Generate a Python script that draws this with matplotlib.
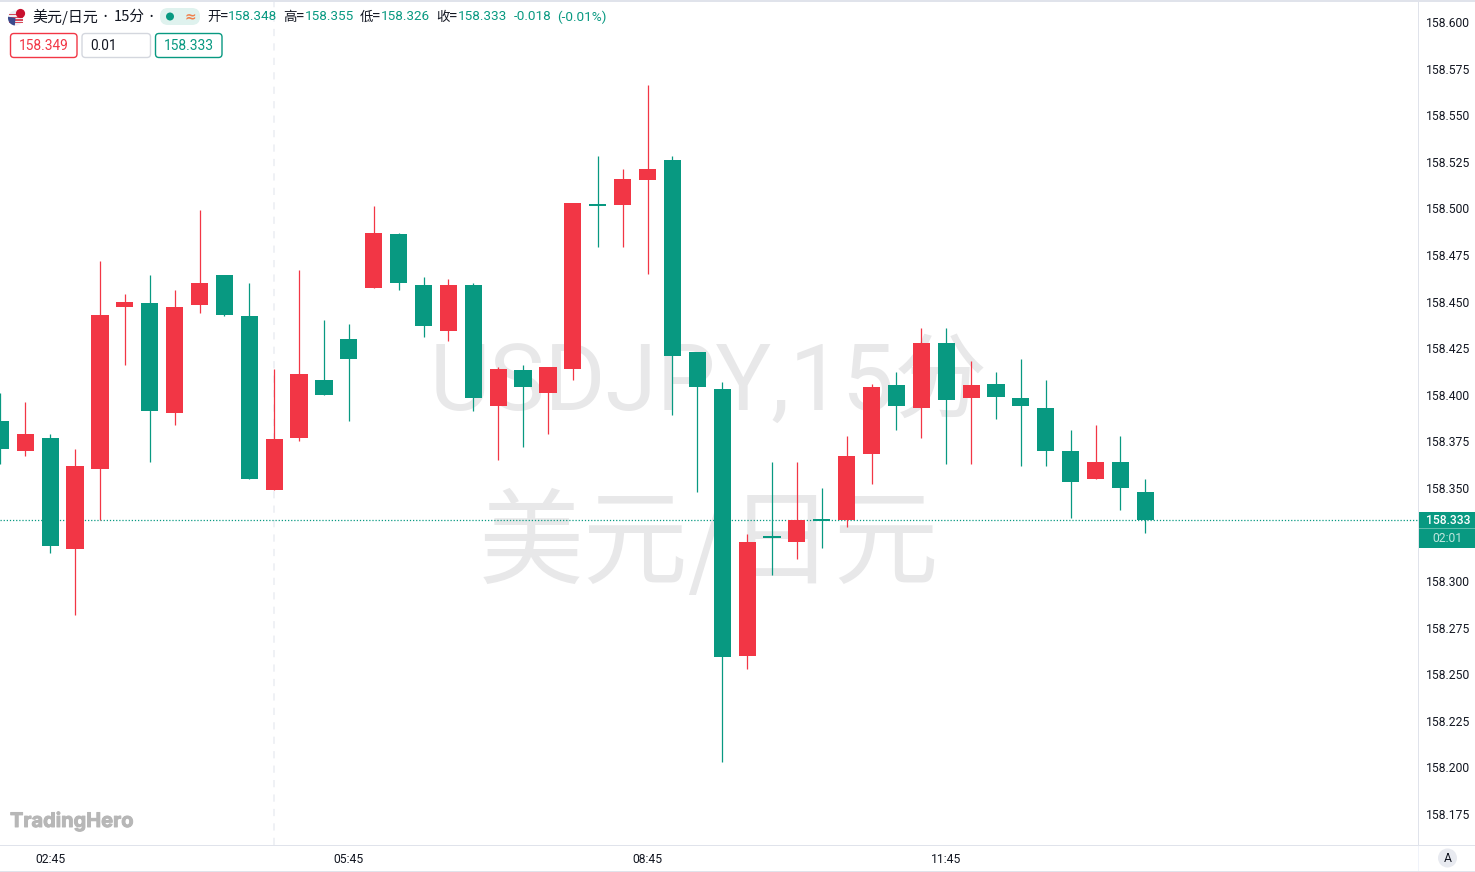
import matplotlib
matplotlib.use("Agg")
import matplotlib.pyplot as plt
import matplotlib.patheffects as pe
from matplotlib.patches import Circle, FancyBboxPatch, Rectangle, Wedge

# USDJPY 15min candles
opens = [158.386, 158.370, 158.377, 158.317, 158.360, 158.447, 158.449, 158.390, 158.448, 158.464,
         158.442, 158.349, 158.377, 158.408, 158.430, 158.457, 158.486, 158.459, 158.434, 158.459,
         158.394, 158.413, 158.401, 158.414, 158.502, 158.502, 158.515, 158.526, 158.423, 158.403,
         158.260, 158.324, 158.321, 158.333, 158.333, 158.368, 158.405, 158.393, 158.428, 158.398,
         158.406, 158.398, 158.393, 158.370, 158.355, 158.364, 158.348]
highs = [158.401, 158.396, 158.379, 158.371, 158.472, 158.454, 158.464, 158.456, 158.499, 158.464,
         158.460, 158.414, 158.467, 158.440, 158.438, 158.501, 158.487, 158.463, 158.462, 158.460,
         158.415, 158.416, 158.415, 158.503, 158.528, 158.521, 158.566, 158.528, 158.423, 158.407,
         158.325, 158.364, 158.364, 158.350, 158.378, 158.406, 158.412, 158.436, 158.436, 158.418,
         158.412, 158.419, 158.408, 158.381, 158.384, 158.378, 158.355]
lows = [158.363, 158.367, 158.315, 158.282, 158.333, 158.416, 158.364, 158.384, 158.444, 158.442,
        158.355, 158.349, 158.375, 158.400, 158.386, 158.457, 158.456, 158.431, 158.429, 158.391,
        158.365, 158.372, 158.379, 158.408, 158.479, 158.479, 158.465, 158.389, 158.348, 158.203,
        158.253, 158.303, 158.312, 158.318, 158.329, 158.352, 158.381, 158.377, 158.363, 158.363,
        158.387, 158.362, 158.362, 158.334, 158.355, 158.338, 158.326]
closes = [158.371, 158.379, 158.319, 158.362, 158.443, 158.450, 158.391, 158.447, 158.460, 158.443,
          158.355, 158.376, 158.411, 158.400, 158.419, 158.487, 158.460, 158.437, 158.459, 158.398,
          158.414, 158.404, 158.415, 158.503, 158.501, 158.516, 158.521, 158.421, 158.404, 158.259,
          158.321, 158.323, 158.333, 158.332, 158.367, 158.404, 158.394, 158.428, 158.397, 158.405,
          158.399, 158.394, 158.370, 158.353, 158.364, 158.350, 158.333]

price_ticks = [158.175, 158.200, 158.225, 158.250, 158.275, 158.300, 158.350, 158.375, 158.400,
               158.425, 158.450, 158.475, 158.500, 158.525, 158.550, 158.575, 158.600]
time_idx = [2, 14, 26, 38]
time_labels = ["02:45", "05:45", "08:45", "11:45"]
session_idx = 11
last_close = 158.333

GREEN = "#089981"
RED = "#F23645"
BORDER = "#e0e3eb"
TXT = "#131722"
CJK = ["Noto Sans CJK SC", "Roboto"]
NUM = ["Roboto", "Noto Sans CJK SC"]

W, H = 1475, 872
PLOT_R, PLOT_B = 1418, 845
px_per_price = 1863.5
px_per_bar = 24.89
x_shift = 0.6  # px

fig = plt.figure(figsize=(W / 100, H / 100), dpi=100, facecolor="white")
ax = fig.add_axes([0, 1 - PLOT_B / H, PLOT_R / W, PLOT_B / H])
ax.set_xlim((-1 + x_shift) / px_per_bar, (-1 + x_shift + PLOT_R) / px_per_bar)
ax.set_ylim(158.6 - (PLOT_B - 22) / px_per_price, 158.6 + 22 / px_per_price)
ax.set_facecolor("none")

# watermarks sit behind the candles
ax.text(0.5, 0.5456, "USDJPY,15分", transform=ax.transAxes, ha="center", va="center",
        fontsize=67, family=NUM, color="#e8e8e9", zorder=0)
ax.text(0.5, 0.354, "美元/日元", transform=ax.transAxes, ha="center", va="center",
        fontsize=75.5, family=CJK, color="#e8e8e9", zorder=0)

ax.axvline(session_idx, color="#eef0f4", lw=1.3, ls=(0, (4, 4)), zorder=1)
ax.axhline(last_close, color=GREEN, lw=0.9, ls=(0, (1, 1.5)), zorder=2)

xs = list(range(len(opens)))
colors = [RED if c >= o else GREEN for o, c in zip(opens, closes)]
bottoms = [min(o, c) for o, c in zip(opens, closes)]
# very flat candles still get a visible body
heights = [max(abs(c - o), 2.6 / px_per_price) for o, c in zip(opens, closes)]
ax.vlines(xs, lows, highs, colors=colors, lw=0.9, zorder=3)
ax.bar(xs, heights, bottom=bottoms, width=17.2 / px_per_bar, color=colors, lw=0, zorder=4)

ax.yaxis.tick_right()
ax.set_yticks(price_ticks)
ax.set_yticklabels([f"{p:.3f}" for p in price_ticks], family=NUM, fontsize=8.7, color=TXT)
ax.set_xticks(time_idx)
ax.set_xticklabels(time_labels, family=NUM, fontsize=8.7, color=TXT)
ax.tick_params(axis="y", length=0, pad=5.6)
ax.tick_params(axis="x", length=0, pad=5.5)
for s in ax.spines.values():
    s.set_visible(False)

# overlay in pixel coords for the UI chrome
ui = fig.add_axes([0, 0, 1, 1], facecolor="none")
ui.set_xlim(0, W)
ui.set_ylim(H, 0)
ui.axis("off")

ui.add_patch(Rectangle((0, 0), W, 2, color=BORDER, lw=0))
ui.add_patch(Rectangle((0, 845), W, 1, color=BORDER, lw=0))
ui.add_patch(Rectangle((0, 870.5), W, 1.5, color=BORDER, lw=0))
ui.add_patch(Rectangle((1418, 0), 1, 845, color=BORDER, lw=0))
ui.add_patch(Rectangle((1418, 846), 1, 25, color="#f0f3fa", lw=0))


def label(x, y, s, color=TXT, size=9.7, fam=CJK, ha="left", **kw):
    return ui.text(x, y, s, color=color, fontsize=size, family=fam, ha=ha, va="center", **kw)


# flag icon
ui.add_patch(Circle((15.5, 18), 7.5, color="#eceef3", lw=0))
for i in range(4):
    ui.add_patch(Rectangle((8.5, 14 + i * 2.7), 14, 1.4, color="#d9495a", lw=0))
ui.add_patch(Wedge((15.5, 18), 7.5, 95, 190, color="#3a4a8c", lw=0))
ui.add_patch(Circle((20.5, 13.5), 4.6, color="#c8102e", lw=0))

label(32, 17, "美元/日元", size=10.8)
label(103, 17, "•", size=7, fam=NUM)
label(114, 17, "15分", size=10.6)
label(149, 17, "•", size=7, fam=NUM)

ui.add_patch(FancyBboxPatch((160, 8), 40, 17, boxstyle="round,pad=0,rounding_size=8",
                            fc="#dff2ee", lw=0))
ui.add_patch(Circle((170, 16.5), 4, color=GREEN, lw=0))
label(190, 16.5, "≈", color="#f0824e", size=10, fam=["DejaVu Sans"], ha="center", fontweight="bold")

for x_key, key, x_val, val in [(207, "开=", 228, "158.348"), (283, "高=", 305, "158.355"),
                               (360, "低=", 381, "158.326"), (436, "收=", 458, "158.333")]:
    label(x_key, 17, key)
    label(x_val, 17, val, color=GREEN, fam=NUM)
label(514, 17, "-0.018", color=GREEN, fam=NUM)
label(557, 17, "(-0.01%)", color=GREEN, fam=NUM)

for x0, x1, edge, txt, tcol, tx in [(10.5, 77, RED, "158.349", RED, 19),
                                    (82, 150.5, "#d4d7de", "0.01", TXT, 90),
                                    (155.5, 222, GREEN, "158.333", GREEN, 164)]:
    ui.add_patch(FancyBboxPatch((x0, 33.5), x1 - x0, 24, boxstyle="round,pad=0,rounding_size=3.5",
                                fc="white", ec=edge, lw=1))
    label(tx, 46, txt, color=tcol, size=9.9, fam=NUM)

# last price tag on the scale
ui.add_patch(Rectangle((1419, 512), 56, 36, color=GREEN, lw=0))
ui.add_patch(Rectangle((1419, 528), 56, 1, color="#5dbdab", lw=0))
label(1448, 520.5, "158.333", color="white", size=8.7, fam=NUM, ha="center", fontweight="medium")
label(1447.5, 538, "02:01", color="#bfe6de", size=8.7, fam=NUM, ha="center")

# logo and auto button
logo = label(10, 821.5, "TradingHero", color="#b7b7b7", size=14.4, fam=["Inter", "DejaVu Sans"], fontweight="bold")
logo.set_path_effects([pe.withStroke(linewidth=0.7, foreground="#b7b7b7")])
ui.add_patch(Circle((1447.5, 858), 9.5, color="#e8eaf0", lw=0))
label(1447.5, 858.5, "A", size=8.7, fam=NUM, ha="center")

fig.savefig("out.png", dpi=100, facecolor="white")
